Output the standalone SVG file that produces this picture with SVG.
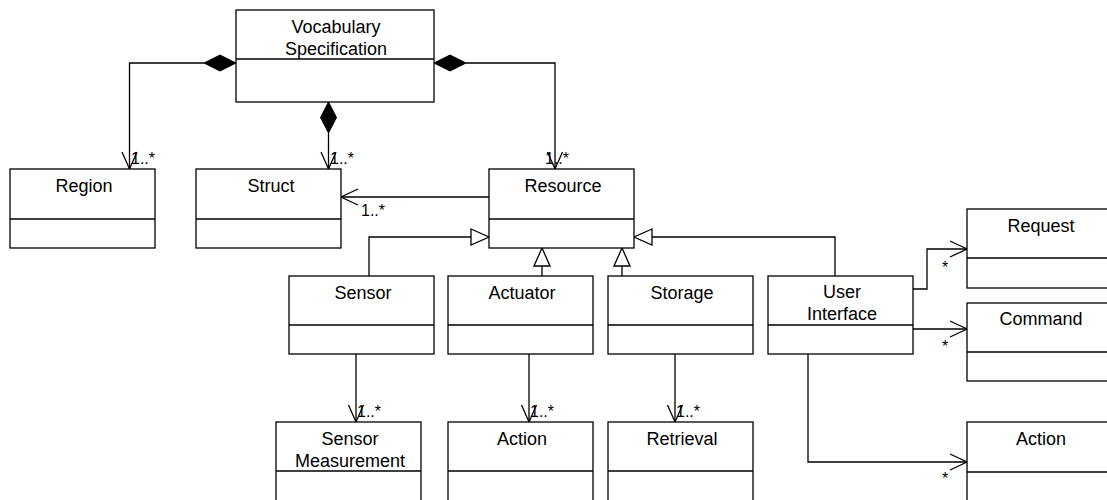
<svg xmlns="http://www.w3.org/2000/svg" width="1107" height="500" viewBox="0 0 1107 500">
<style>
.box{fill:#fff;stroke:#000;stroke-width:1.3}
.div{stroke:#000;stroke-width:1.3}
.t{font-family:"Liberation Sans",Arial,sans-serif;font-size:18px;fill:#000;text-anchor:middle}
.m{font-family:"Liberation Sans",Arial,sans-serif;font-size:16px;fill:#000}
.s{font-family:"Liberation Sans",Arial,sans-serif;font-size:16px;fill:#000}
.ln{fill:none;stroke:#000;stroke-width:1.3}
.dia{fill:#000;stroke:#000;stroke-width:1}
.tri{fill:#fff;stroke:#000;stroke-width:1.3}
</style>
<rect width="1107" height="500" fill="#fff"/>
<g id="connectors">
  <!-- compositions -->
  <polygon class="dia" points="236,63 220,55 204,63 220,71"/>
  <path class="ln" d="M204,63 H129.5 V169"/>
  <polyline class="ln" points="122,152 129.5,169 137,152"/>
  <text class="m" x="131" y="164">1..*</text>

  <polygon class="dia" points="328.5,102 320.5,117.5 328.5,133 336.5,117.5"/>
  <path class="ln" d="M328.5,133 V169"/>
  <polyline class="ln" points="321,152 328.5,169 336,152"/>
  <text class="m" x="330" y="164">1..*</text>

  <polygon class="dia" points="434,63 450,55 466,63 450,71"/>
  <path class="ln" d="M466,63 H555 V169"/>
  <polyline class="ln" points="547.5,152 555,169 562.5,152"/>
  <text class="m" x="545" y="164">1..*</text>

  <!-- Resource -> Struct -->
  <path class="ln" d="M489,197 H341"/>
  <polyline class="ln" points="358,189 341,197 358,205"/>
  <text class="m" x="361" y="216">1..*</text>

  <!-- generalizations -->
  <path class="ln" d="M369,276 V237 H471"/>
  <polygon class="tri" points="471,229 489,237 471,245"/>
  <path class="ln" d="M542,276 V266"/>
  <polygon class="tri" points="534,266 542,248 550,266"/>
  <path class="ln" d="M622,276 V266"/>
  <polygon class="tri" points="614,266 622,248 630,266"/>
  <path class="ln" d="M835,276 V237 H652"/>
  <polygon class="tri" points="652,229 634,237 652,245"/>

  <!-- lower associations -->
  <path class="ln" d="M356,354 V422"/>
  <polyline class="ln" points="348.5,405 356,422 363.5,405"/>
  <text class="m" x="357" y="417">1..*</text>
  <path class="ln" d="M529,354 V422"/>
  <polyline class="ln" points="521.5,405 529,422 536.5,405"/>
  <text class="m" x="530" y="417">1..*</text>
  <path class="ln" d="M675,354 V422"/>
  <polyline class="ln" points="667.5,405 675,422 682.5,405"/>
  <text class="m" x="676" y="417">1..*</text>

  <!-- User Interface associations -->
  <path class="ln" d="M913,289 H927 V249 H967"/>
  <polyline class="ln" points="950,241 967,249 950,257"/>
  <text class="s" x="942" y="273">*</text>
  <path class="ln" d="M913,329 H967"/>
  <polyline class="ln" points="950,321 967,329 950,337"/>
  <text class="s" x="942" y="352">*</text>
  <path class="ln" d="M808,354 V462 H967"/>
  <polyline class="ln" points="950,454 967,462 950,470"/>
  <text class="s" x="942" y="484">*</text>
</g>

<g id="vocabulary-specification">
  <rect class="box" x="236" y="10" width="198" height="92"/>
  <line class="div" x1="236" y1="59" x2="434" y2="59"/>
  <text class="t" x="336" y="33">Vocabulary</text>
  <text class="t" x="336" y="55">Specification</text>
</g>
<g id="region">
  <rect class="box" x="10" y="169" width="145" height="79"/>
  <line class="div" x1="10" y1="219" x2="155" y2="219"/>
  <text class="t" x="84" y="192">Region</text>
</g>
<g id="struct">
  <rect class="box" x="196" y="169" width="145" height="79"/>
  <line class="div" x1="196" y1="219" x2="341" y2="219"/>
  <text class="t" x="271" y="192">Struct</text>
</g>
<g id="resource">
  <rect class="box" x="489" y="169" width="145" height="79"/>
  <line class="div" x1="489" y1="219" x2="634" y2="219"/>
  <text class="t" x="563" y="192">Resource</text>
</g>
<g id="sensor">
  <rect class="box" x="289" y="276" width="145" height="78"/>
  <line class="div" x1="289" y1="325" x2="434" y2="325"/>
  <text class="t" x="363" y="299">Sensor</text>
</g>
<g id="actuator">
  <rect class="box" x="448" y="276" width="145" height="78"/>
  <line class="div" x1="448" y1="325" x2="593" y2="325"/>
  <text class="t" x="522" y="299">Actuator</text>
</g>
<g id="storage">
  <rect class="box" x="608" y="276" width="145" height="78"/>
  <line class="div" x1="608" y1="325" x2="753" y2="325"/>
  <text class="t" x="682" y="299">Storage</text>
</g>
<g id="user-interface">
  <rect class="box" x="768" y="276" width="145" height="78"/>
  <line class="div" x1="768" y1="325" x2="913" y2="325"/>
  <text class="t" x="842" y="298">User</text>
  <text class="t" x="842" y="320">Interface</text>
</g>
<g id="request">
  <rect class="box" x="967" y="209" width="145" height="79"/>
  <line class="div" x1="967" y1="258" x2="1112" y2="258"/>
  <text class="t" x="1041" y="232">Request</text>
</g>
<g id="command">
  <rect class="box" x="967" y="303" width="145" height="78"/>
  <line class="div" x1="967" y1="352" x2="1112" y2="352"/>
  <text class="t" x="1041" y="325">Command</text>
</g>
<g id="sensor-measurement">
  <rect class="box" x="276" y="422" width="145" height="80"/>
  <line class="div" x1="276" y1="471" x2="421" y2="471"/>
  <text class="t" x="350" y="445">Sensor</text>
  <text class="t" x="350" y="467">Measurement</text>
</g>
<g id="action">
  <rect class="box" x="448" y="422" width="145" height="80"/>
  <line class="div" x1="448" y1="471" x2="593" y2="471"/>
  <text class="t" x="522" y="445">Action</text>
</g>
<g id="retrieval">
  <rect class="box" x="608" y="422" width="145" height="80"/>
  <line class="div" x1="608" y1="471" x2="753" y2="471"/>
  <text class="t" x="682" y="445">Retrieval</text>
</g>
<g id="ui-action">
  <rect class="box" x="967" y="422" width="145" height="80"/>
  <line class="div" x1="967" y1="472" x2="1112" y2="472"/>
  <text class="t" x="1041" y="445">Action</text>
</g>
</svg>
